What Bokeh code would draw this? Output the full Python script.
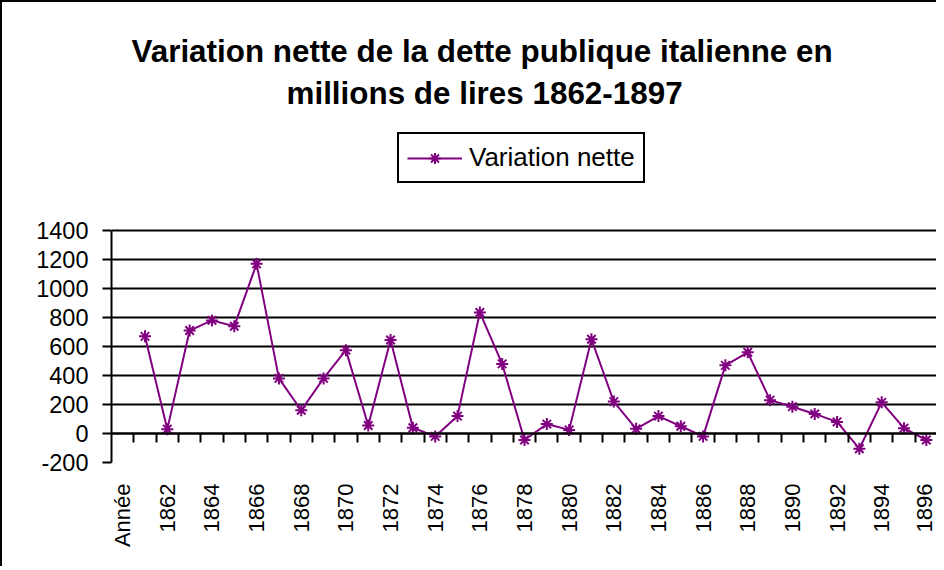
from bokeh.plotting import figure
from bokeh.models import (LinearAxis, FixedTicker, Range1d, Legend, LegendItem,
                          ColumnDataSource, Grid, Title)
from bokeh.embed import file_html
from bokeh.resources import INLINE

# ---- data ----
categories = ["Année", "1861", "1862", "1863", "1864", "1865", "1866", "1867", "1868",
              "1869", "1870", "1871", "1872", "1873", "1874", "1875", "1876", "1877",
              "1878", "1879", "1880", "1881", "1882", "1883", "1884", "1885", "1886",
              "1887", "1888", "1889", "1890", "1891", "1892", "1893", "1894", "1895",
              "1896"]
years = categories[1:]
variation_nette = [670, 30, 710, 780, 740, 1170, 380, 160, 380, 575, 55, 645, 40, -20,
                   120, 835, 480, -45, 65, 25, 650, 220, 32, 120, 50, -20, 470, 560,
                   230, 185, 135, 80, -105, 215, 37, -45]
y_ticks = [-200, 0, 200, 400, 600, 800, 1000, 1200, 1400]
y_tick_labels = ["-200", "0", "200", "400", "600", "800", "1000", "1200", "1400"]
title_line1 = "Variation nette de la dette publique italienne en"
title_line2 = "millions de lires 1862-1897"
series_name = "Variation nette"

FONT = "Liberation Sans"
PURPLE = "#800080"

# ---- layout (pixels) ----
FRAME_TOP = 115        # top of the plotting frame (legend lives inside it)
GRID_TOP = 230         # pixel row of the highest gridline
GRID_BOTTOM = 462      # pixel row of the lowest gridline
px_per_unit = (GRID_BOTTOM - GRID_TOP) / (y_ticks[-1] - y_ticks[0])
y_end = y_ticks[0] + (GRID_BOTTOM - FRAME_TOP) / px_per_unit

xs = [categories.index(y) for y in years]
src = ColumnDataSource(dict(x=xs, y=variation_nette))

p = figure(width=936, height=566, output_backend="svg", toolbar_location=None,
           x_range=Range1d(-0.5, len(categories) - 0.5),
           y_range=Range1d(y_ticks[0], y_end),
           x_axis_type=None, y_axis_type=None, title=None)
p.min_border_left = 109
p.min_border_right = 1
p.min_border_top = FRAME_TOP - 2
p.min_border_bottom = 566 - (FRAME_TOP - 2) - (GRID_BOTTOM - FRAME_TOP)
p.outline_line_color = None
p.background_fill_color = "white"
p.border_fill_color = "white"
p.styles = {"border-left": "2px solid black", "border-top": "2px solid black"}

# y axis
yaxis = LinearAxis(ticker=FixedTicker(ticks=y_ticks), bounds=(y_ticks[0], y_ticks[-1]))
yaxis.major_label_overrides = dict(zip(y_ticks, y_tick_labels))
yaxis.axis_line_color = "black"
yaxis.axis_line_width = 2
yaxis.major_tick_line_color = "black"
yaxis.major_tick_line_width = 2
yaxis.major_tick_out = 9
yaxis.major_tick_in = 0
yaxis.minor_tick_line_color = None
yaxis.major_label_standoff = 14
yaxis.major_label_text_font = FONT
yaxis.major_label_text_font_size = "23.5px"
yaxis.major_label_text_color = "black"
p.add_layout(yaxis, "left")

# category label axis (below the frame)
xlab = LinearAxis(ticker=FixedTicker(ticks=list(range(len(categories)))))
overrides = {}
for i, c in enumerate(categories):
    if c == "Année" or int(c) % 2 == 0:
        overrides[i] = c
    else:
        overrides[i] = ""
xlab.major_label_overrides = overrides
xlab.major_label_orientation = 3.14159265 / 2
xlab.axis_line_color = None
xlab.major_tick_line_color = None
xlab.minor_tick_line_color = None
xlab.major_tick_out = 0
xlab.major_tick_in = 0
xlab.major_label_standoff = 21
xlab.major_label_text_font = FONT
xlab.major_label_text_font_size = "22px"
xlab.major_label_text_color = "black"
p.add_layout(xlab, "below")

# category axis line at zero with ticks between categories
xtick = LinearAxis(ticker=FixedTicker(ticks=[i + 0.5 for i in range(len(categories))]),
                   fixed_location=0)
xtick.axis_line_color = "black"
xtick.axis_line_width = 2
xtick.major_tick_line_color = "black"
xtick.major_tick_line_width = 2
xtick.major_tick_out = 9
xtick.major_tick_in = 0
xtick.minor_tick_line_color = None
xtick.major_label_text_font_size = "0px"
xtick.major_label_standoff = 0
xtick.major_label_overrides = {i + 0.5: "" for i in range(len(categories))}
p.add_layout(xtick, "below")

# horizontal grid
grid = Grid(dimension=1, ticker=FixedTicker(ticks=y_ticks), grid_line_color="black",
            grid_line_width=2)
p.add_layout(grid, "center")

# series
ln = p.line("x", "y", source=src, line_color=PURPLE, line_width=2)
sc = p.scatter("x", "y", source=src, marker="asterisk", size=12, line_color=PURPLE,
               line_width=2)

legend = Legend(items=[LegendItem(label=series_name, renderers=[ln, sc])],
                location=(286, GRID_BOTTOM - 183), orientation="vertical")
legend.border_line_color = "black"
legend.border_line_alpha = 1
legend.border_line_width = 2
legend.background_fill_color = "white"
legend.background_fill_alpha = 1
legend.padding = 8
legend.margin = 0
legend.glyph_width = 55
legend.glyph_height = 28
legend.label_standoff = 7
legend.label_text_font = FONT
legend.label_text_font_size = "26px"
legend.label_text_color = "black"
legend.label_height = 28
p.add_layout(legend, "center")

# title (two centred lines over the whole chart)
t2 = Title(text=title_line2, align="left", offset=175, text_font=FONT,
           text_font_size="31.4px", text_font_style="bold", text_color="black",
           standoff=10)
p.add_layout(t2, "above")
t1 = Title(text=title_line1, align="left", offset=20, text_font=FONT,
           text_font_size="31.4px", text_font_style="bold", text_color="black",
           standoff=0)
p.add_layout(t1, "above")

open("out.html", "w").write(file_html(p, INLINE))
